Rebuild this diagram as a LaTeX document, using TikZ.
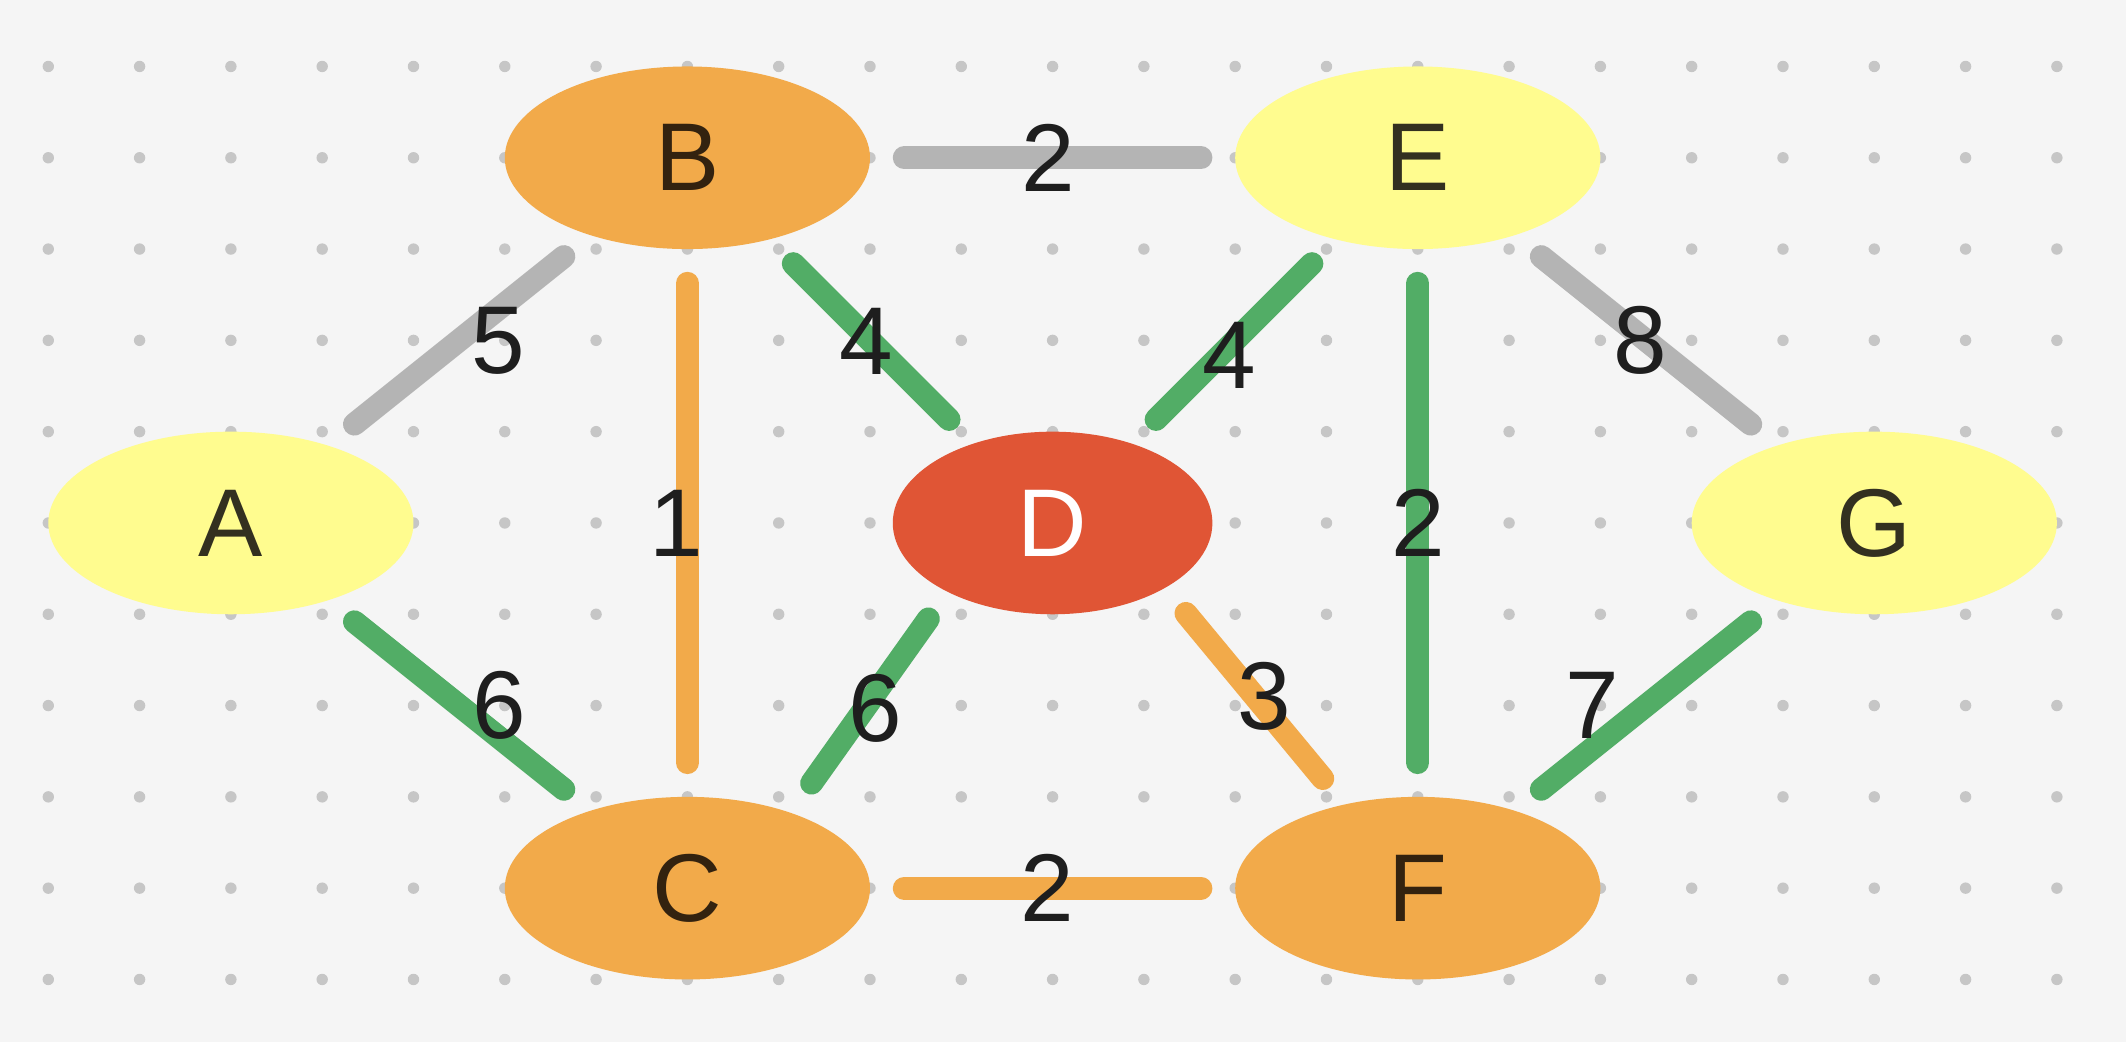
\documentclass[tikz,border=0pt]{standalone}
\usepackage{fontspec}
\setmainfont{Liberation Sans}
\usepackage{tikz}
\definecolor{bgcol}{HTML}{F5F5F5}
\definecolor{dotcol}{HTML}{C6C6C6}
\definecolor{orangecol}{HTML}{F2AA4A}
\definecolor{yellowcol}{HTML}{FFFC8F}
\definecolor{redcol}{HTML}{E05535}
\definecolor{greencol}{HTML}{52AD66}
\definecolor{graycol}{HTML}{B4B4B4}
\definecolor{inkcol}{HTML}{1E1E1E}
\definecolor{yellowink}{HTML}{333020}
\definecolor{orangeink}{HTML}{33220F}
\tikzset{
    vertex/.style={ellipse, minimum width=3.652cm, minimum height=1.826cm, inner sep=0pt, outer sep=0pt,
        font=\fontsize{27.4}{32}\selectfont},
    pale/.style={vertex, fill=yellowcol, text=yellowink},
    warm/.style={vertex, fill=orangecol, text=orangeink},
    hot/.style={vertex, fill=redcol, text=white, minimum width=3.196cm},
    link/.style={line width=6.5pt, line cap=round},
    trim/.style={shorten <=0.342cm, shorten >=0.342cm},
    weight/.style={text=inkcol, inner sep=0pt, font=\fontsize{27.4}{32}\selectfont}}
\usetikzlibrary{shapes.geometric}

\begin{document}
\begin{tikzpicture}[x=0.913cm, y=0.913cm]
    \useasboundingbox (-0.529, 0.728) rectangle (22.757, -10.685);
    \fill[bgcol] (-0.529, 0.728) rectangle (22.757, -10.685);
    \foreach \i in {0,...,22}
        \foreach \j in {0,...,10}
            \fill[dotcol] (\i, -\j) circle (0.057cm);
    \node[pale] (A) at (2, -5) {A};
    \node[warm] (B) at (7, -1) {B};
    \node[warm] (C) at (7, -9) {C};
    \node[hot] (D) at (11, -5) {D};
    \node[pale] (E) at (15, -1) {E};
    \node[warm] (F) at (15, -9) {F};
    \node[pale] (G) at (20, -5) {G};
    \draw[link, trim, graycol] (A) -- node[weight, xshift=0.393cm] {5} (B);
    \draw[link, trim, graycol] (B) -- node[weight, xshift=-0.046cm] {2} (E);
    \draw[link, trim, orangecol] (B) -- node[weight, xshift=-0.11cm] {1} (C);
    \draw[link, trim, greencol] (B) -- node[weight, xshift=-0.046cm] {4} (D);
    \draw[link, trim, greencol] (E) -- node[weight, xshift=-0.046cm, yshift=-0.137cm] {4} (D);
    \draw[link, trim, greencol] (E) -- node[weight] {2} (F);
    \draw[link, trim, graycol] (E) -- node[weight, xshift=-0.055cm] {8} (G);
    \draw[link, trim, greencol] (A) -- node[weight, xshift=0.40cm] {6} (C);
    \draw[link, greencol] ([shift={(1.36, 1.15)}]C.center) -- node[weight, xshift=0.055cm, yshift=-0.073cm] {6} ([shift={(-1.36, -1.05)}]D.center);
    \draw[link, orangecol] ([shift={(1.46, -0.99)}]D.center) -- node[weight, xshift=0.10cm] {3} ([shift={(-1.04, 1.2)}]F.center);
    \draw[link, trim, orangecol] (C) -- node[weight, xshift=-0.055cm] {2} (F);
    \draw[link, trim, greencol] (F) -- node[weight, xshift=-0.539cm] {7} (G);
\end{tikzpicture}
\end{document}
